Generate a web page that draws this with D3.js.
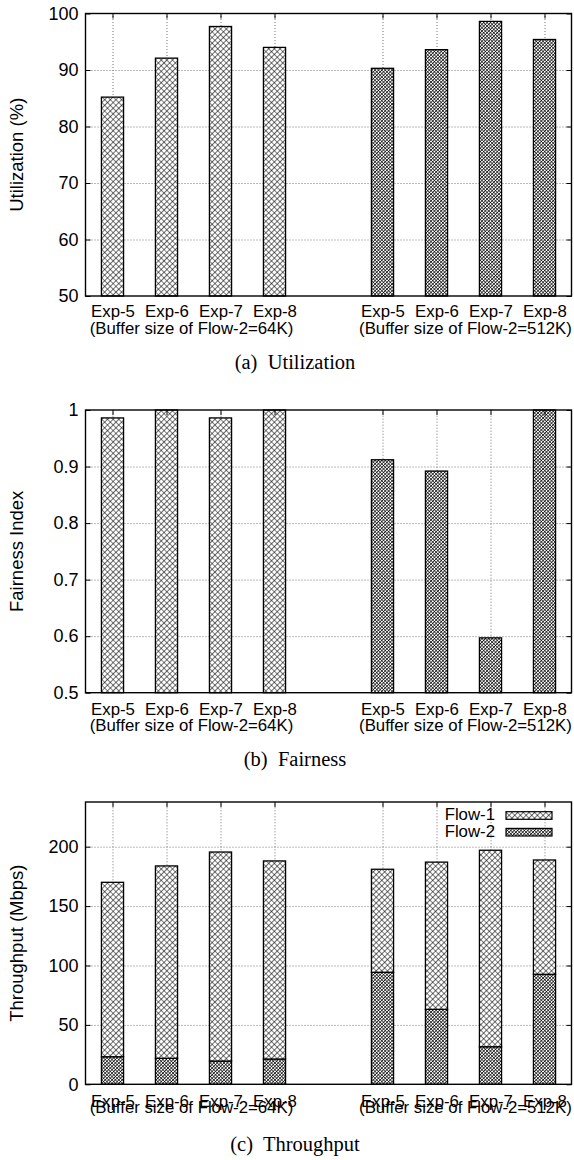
<!DOCTYPE html>
<html>
<head>
<meta charset="utf-8">
<script src="https://cdn.jsdelivr.net/npm/d3@7"></script>
<style>
  html, body { margin: 0; padding: 0; background: #fff; }
  svg { display: block; }
  .sans { font-family: "Liberation Sans", Arial, Helvetica, sans-serif; fill: #000; }
  .serif { font-family: "Liberation Serif", "Times New Roman", Times, serif; fill: #000; }
</style>
</head>
<body>
<script>
// ---- data ----
const categories = ["Exp-5", "Exp-6", "Exp-7", "Exp-8"];
const groupLabels = ["(Buffer size of Flow-2=64K)", "(Buffer size of Flow-2=512K)"];
const seriesNames = ["Flow-1", "Flow-2"];

const utilization64 = [85.2, 92.1, 97.7, 94.0];
const utilization512 = [90.3, 93.6, 98.6, 95.4];

const fairness64 = [0.986, 1.0, 0.986, 1.0];
const fairness512 = [0.912, 0.892, 0.597, 1.0];

const flow1Thr64 = [146.8, 161.9, 175.9, 166.7];
const flow2Thr64 = [23.2, 21.9, 19.6, 21.3];
const flow1Thr512 = [86.7, 123.9, 165.4, 96.2];
const flow2Thr512 = [94.3, 63.1, 31.6, 92.6];

const utilTicks = [50, 60, 70, 80, 90, 100];
const fairTicks = [0.5, 0.6, 0.7, 0.8, 0.9, 1];
const thrTicks = [0, 50, 100, 150, 200];

// ---- layout ----
const W = 574, H = 1160;
const plotLeft = 85.5, plotRight = 571.5;
const slotCount = 9;           // 4 bars, one empty slot, 4 bars
const barFrac = 0.41;
const labelFont = "Liberation Sans, Arial, sans-serif";

const svg = d3.select("body").append("svg")
  .attr("width", W).attr("height", H)
  .attr("viewBox", `0 0 ${W} ${H}`);

// fill patterns: open crosshatch (Flow-1 / 64K) and dense crosshatch (Flow-2 / 512K)
const defs = svg.append("defs");
function hatch(id, size, width) {
  const p = defs.append("pattern")
    .attr("id", id)
    .attr("patternUnits", "userSpaceOnUse")
    .attr("width", size).attr("height", size)
    .attr("patternTransform", "rotate(45)");
  p.append("rect").attr("width", size).attr("height", size).attr("fill", "#fff");
  p.append("path")
    .attr("d", `M0,0H${size}M0,0V${size}`)
    .attr("stroke", "#000").attr("stroke-width", width)
    .attr("fill", "none");
}
hatch("hatchOpen", 4.0, 1.15);
hatch("hatchDense", 2.4, 1.35);

const x = d3.scaleLinear().domain([-0.5, slotCount - 0.5]).range([plotLeft, plotRight]);
const step = x(1) - x(0);
const barW = step * barFrac;
const slotsA = [0, 1, 2, 3];
const slotsB = [5, 6, 7, 8];
const allSlots = slotsA.concat(slotsB);

function panel(cfg) {
  const g = svg.append("g");
  const y = d3.scaleLinear().domain(cfg.domain).range([cfg.bottom, cfg.top]);
  const innerW = plotRight - plotLeft;
  const innerH = cfg.bottom - cfg.top;

  // horizontal grid
  const gridTicks = cfg.ticks.filter(t => t !== cfg.domain[0] && t !== cfg.domain[1]);
  g.append("g")
    .attr("transform", `translate(${plotLeft},0)`)
    .call(d3.axisLeft(y).tickValues(gridTicks).tickSize(-innerW).tickFormat(""))
    .call(a => a.select(".domain").remove())
    .call(a => a.selectAll("line").attr("stroke", "#777").attr("stroke-dasharray", "1,2"));

  // vertical grid
  g.append("g")
    .attr("transform", `translate(0,${cfg.bottom})`)
    .call(d3.axisBottom(x).tickValues(allSlots).tickSize(-innerH).tickFormat(""))
    .call(a => a.select(".domain").remove())
    .call(a => a.selectAll("line").attr("stroke", "#777").attr("stroke-dasharray", "1,2"));

  // bars
  cfg.layers.forEach(layer => {
    g.append("g").selectAll("rect")
      .data(layer.values.map((v, i) => ({ slot: layer.slots[i], lo: layer.base ? layer.base[i] : cfg.domain[0], hi: (layer.base ? layer.base[i] : 0) + v })))
      .join("rect")
      .attr("x", d => x(d.slot) - barW / 2)
      .attr("width", barW)
      .attr("y", d => y(d.hi))
      .attr("height", d => y(d.lo) - y(d.hi))
      .attr("fill", `url(#${layer.pattern})`)
      .attr("stroke", "#000")
      .attr("stroke-width", 1.3);
  });

  // border
  g.append("rect")
    .attr("x", plotLeft).attr("y", cfg.top)
    .attr("width", innerW).attr("height", innerH)
    .attr("fill", "none").attr("stroke", "#000").attr("stroke-width", 1.4);

  // left axis: inward ticks + labels
  g.append("g")
    .attr("transform", `translate(${plotLeft},0)`)
    .call(d3.axisLeft(y).tickValues(cfg.ticks).tickSize(-5).tickPadding(7).tickFormat(d3.format("~g")))
    .call(a => a.select(".domain").remove())
    .call(a => a.selectAll("line").attr("stroke", "#000"))
    .call(a => a.selectAll("text").attr("font-size", 18).attr("font-family", labelFont).attr("fill", "#000"));

  // right axis ticks
  g.append("g")
    .attr("transform", `translate(${plotRight},0)`)
    .call(d3.axisRight(y).tickValues(cfg.ticks).tickSize(-5).tickFormat(""))
    .call(a => a.select(".domain").remove())
    .call(a => a.selectAll("line").attr("stroke", "#000"));

  // top axis ticks
  g.append("g")
    .attr("transform", `translate(0,${cfg.top})`)
    .call(d3.axisTop(x).tickValues(allSlots).tickSize(-5).tickFormat(""))
    .call(a => a.select(".domain").remove())
    .call(a => a.selectAll("line").attr("stroke", "#000"));

  // bottom axis: category labels
  const catOf = s => categories[s < 4 ? s : s - 5];
  g.append("g")
    .attr("transform", `translate(0,${cfg.bottom})`)
    .call(d3.axisBottom(x).tickValues(allSlots).tickSize(0).tickPadding(cfg.line1 - 12).tickFormat(catOf))
    .call(a => a.select(".domain").remove())
    .call(a => a.selectAll("text").attr("font-size", 16.8).attr("font-family", labelFont).attr("fill", "#000"));

  // group labels (second line)
  [slotsA, slotsB].forEach((slots, gi) => {
    g.append("text").attr("class", "sans")
      .attr("x", (x(slots[0]) + x(slots[3])) / 2 + (gi === 0 ? -2 : 2))
      .attr("y", cfg.bottom + cfg.line2)
      .attr("text-anchor", "middle")
      .attr("font-size", 16.8)
      .text(groupLabels[gi]);
  });

  // y title
  g.append("text").attr("class", "sans")
    .attr("transform", `translate(23,${(cfg.top + cfg.bottom) / 2}) rotate(-90)`)
    .attr("text-anchor", "middle")
    .attr("font-size", 18.5)
    .text(cfg.yTitle);

  // caption
  g.append("text").attr("class", "serif")
    .attr("x", 295).attr("y", cfg.caption)
    .attr("text-anchor", "middle")
    .attr("font-size", 20.5)
    .style("white-space", "pre")
    .text(cfg.captionText);

  return { g, y };
}

// (a) Utilization
panel({
  top: 13.5, bottom: 296, domain: [50, 100], ticks: utilTicks,
  yTitle: "Utilization (%)", caption: 369, captionText: "(a)  Utilization",
  line1: 21.5, line2: 38,
  layers: [
    { slots: slotsA, values: utilization64, pattern: "hatchOpen" },
    { slots: slotsB, values: utilization512, pattern: "hatchDense" }
  ]
});

// (b) Fairness
panel({
  top: 410, bottom: 692.7, domain: [0.5, 1], ticks: fairTicks,
  yTitle: "Fairness Index", caption: 766, captionText: "(b)  Fairness",
  line1: 22, line2: 38.5,
  layers: [
    { slots: slotsA, values: fairness64, pattern: "hatchOpen" },
    { slots: slotsB, values: fairness512, pattern: "hatchDense" }
  ]
});

// (c) Throughput, stacked Flow-2 (bottom) and Flow-1 (top)
const pc = panel({
  top: 802, bottom: 1084.3, domain: [0, 237.6], ticks: thrTicks,
  yTitle: "Throughput (Mbps)", caption: 1151, captionText: "(c)  Throughput",
  line1: 22.3, line2: 28.7,
  layers: [
    { slots: slotsA, values: flow2Thr64, pattern: "hatchDense" },
    { slots: slotsA, values: flow1Thr64, base: flow2Thr64, pattern: "hatchOpen" },
    { slots: slotsB, values: flow2Thr512, pattern: "hatchDense" },
    { slots: slotsB, values: flow1Thr512, base: flow2Thr512, pattern: "hatchOpen" }
  ]
});

// legend
const legend = pc.g.append("g");
const legendPatterns = ["hatchOpen", "hatchDense"];
seriesNames.forEach((name, i) => {
  const base = 820 + i * 16.7;
  legend.append("text").attr("class", "sans")
    .attr("x", 495).attr("y", base)
    .attr("text-anchor", "end")
    .attr("font-size", 16.8)
    .text(name);
  legend.append("rect")
    .attr("x", 506).attr("y", base - 8.3)
    .attr("width", 46).attr("height", 7.6)
    .attr("fill", `url(#${legendPatterns[i]})`)
    .attr("stroke", "#000").attr("stroke-width", 1.2);
});
</script>
</body>
</html>
